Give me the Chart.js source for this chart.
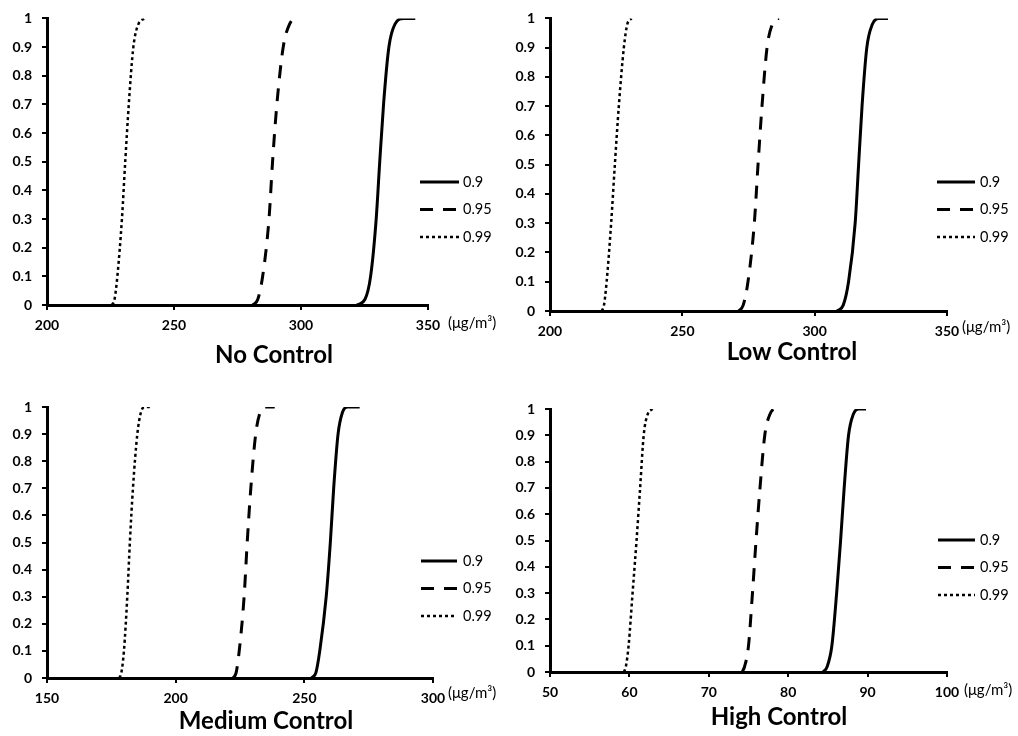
<!DOCTYPE html>
<html>
<head>
<meta charset="utf-8">
<script src="https://cdn.jsdelivr.net/npm/chart.js@4.4.0/dist/chart.umd.min.js"></script>
<style>
    body { margin: 0; background: #fff; width: 1018px; height: 736px; position: relative; overflow: hidden; }
    .panel { position: absolute; }
</style>
</head>
<body>
<div class="panel" style="left:0;top:0;width:509px;height:375px"><canvas id="noCtrl"></canvas></div>
<div class="panel" style="left:509px;top:0;width:509px;height:375px"><canvas id="lowCtrl"></canvas></div>
<div class="panel" style="left:0;top:375px;width:509px;height:361px"><canvas id="medCtrl"></canvas></div>
<div class="panel" style="left:509px;top:375px;width:509px;height:361px"><canvas id="highCtrl"></canvas></div>
<script>
// cumulative probability at the points (extra x values stay at 1)
var cumProb = [0, 0.02, 0.1, 0.3, 0.5, 0.7, 0.9, 0.98, 1];
var seriesNames = ['0.9', '0.95', '0.99'];
var yTicks = [0, 0.1, 0.2, 0.3, 0.4, 0.5, 0.6, 0.7, 0.8, 0.9, 1];

// No Control
var noCtrlTicks = [200, 250, 300, 350];
var noCtrl90 = [322.0, 325.2, 327.4, 329.6, 331.0, 332.5, 334.6, 337.0, 340.5, 345.0];
var noCtrl95 = [281.0, 283.0, 284.9, 287.4, 288.8, 290.5, 293.0, 295.5, 298.0, 298.9];
var noCtrl99 = [225.6, 226.6, 227.7, 229.5, 230.8, 232.2, 234.0, 236.0, 238.6];

// Low Control
var lowCtrlTicks = [200, 250, 300, 350];
var lowCtrl90 = [308.4, 310.8, 312.8, 315.3, 316.6, 317.9, 319.7, 321.8, 324.2, 327.7];
var lowCtrl95 = [271.3, 273.0, 274.8, 277.2, 278.6, 280.1, 282.0, 284.0, 286.0, 286.6];
var lowCtrl99 = [219.5, 220.4, 221.4, 223.1, 224.5, 226.0, 227.9, 229.2, 230.8];

// Medium Control
var medCtrlTicks = [150, 200, 250, 300];
var medCtrl90 = [252.8, 254.5, 256.0, 258.5, 260.1, 261.4, 263.1, 264.8, 266.8, 271.5];
var medCtrl95 = [222.3, 223.5, 224.7, 226.6, 227.8, 229.2, 231.1, 232.8, 234.5, 238.5];
var medCtrl99 = [178.1, 178.9, 179.9, 181.2, 182.2, 183.4, 185.1, 186.5, 188.0, 190.0];

// High Control
var highCtrlTicks = [50, 60, 70, 80, 90, 100];
var highCtrl90 = [84.4, 84.9, 85.5, 86.1, 86.6, 87.05, 87.6, 88.2, 88.9, 89.8];
var highCtrl95 = [74.2, 74.5, 75.0, 75.5, 75.95, 76.45, 77.05, 77.7, 78.4, 78.7];
var highCtrl99 = [59.3, 59.55, 59.9, 60.4, 60.9, 61.35, 61.8, 62.3, 62.9];

var lineStyles = [
    { borderDash: [], borderWidth: 3 },
    { borderDash: [13, 10], borderWidth: 3 },
    { borderDash: [3, 3], borderWidth: 2.5 }
];

// panel layout (canvas coords)
var panels = [
    { id: 'noCtrl', title: 'No Control', ticks: noCtrlTicks, series: [noCtrl90, noCtrl95, noCtrl99],
      area: [47, 12, 428, 305], legend: [420, 459, 463, 182], titlePos: [274, 355], unitPos: [448, 323] },
    { id: 'lowCtrl', title: 'Low Control', ticks: lowCtrlTicks, series: [lowCtrl90, lowCtrl95, lowCtrl99],
      area: [41, 13, 438, 311], legend: [428, 466, 471, 182], titlePos: [283, 352], unitPos: [453, 327] },
    { id: 'medCtrl', title: 'Medium Control', ticks: medCtrlTicks, series: [medCtrl90, medCtrl95, medCtrl99],
      area: [47, 32, 433, 303], legend: [421, 457, 463, 186], titlePos: [266, 346], unitPos: [448, 318] },
    { id: 'highCtrl', title: 'High Control', ticks: highCtrlTicks, series: [highCtrl90, highCtrl95, highCtrl99],
      area: [41, 34, 438, 297], legend: [429, 466, 471, 165], titlePos: [270, 342], unitPos: [455, 315] }
];

function toPoints(xs) {
    return xs.map(function (x, i) {
        return { x: x, y: i < cumProb.length ? cumProb[i] : 1 };
    });
}

// legend, caption and unit drawn by hand so they sit where the original has them
var panelDecor = {
    id: 'panelDecor',
    afterDraw: function (chart, args, opts) {
        var ctx = chart.ctx;
        ctx.save();
        ctx.fillStyle = '#000';
        ctx.strokeStyle = '#000';
        ctx.textBaseline = 'middle';
        // legend
        ctx.font = '14.5px Lato';
        chart.data.datasets.forEach(function (ds, i) {
            var y = opts.legend[3] + i * 27.5;
            ctx.lineWidth = ds.borderWidth;
            ctx.setLineDash(ds.borderDash);
            ctx.beginPath();
            ctx.moveTo(opts.legend[0], y);
            ctx.lineTo(opts.legend[1], y);
            ctx.stroke();
            ctx.setLineDash([]);
            ctx.textAlign = 'left';
            ctx.fillText(ds.label, opts.legend[2], y);
        });
        // unit
        ctx.font = '15px Lato';
        ctx.textAlign = 'left';
        ctx.fillText('(\u03bcg/m\u00b3)', opts.unitPos[0], opts.unitPos[1]);
        // caption
        ctx.font = 'bold 24px Lato';
        ctx.textAlign = 'center';
        ctx.fillText(opts.title, opts.titlePos[0], opts.titlePos[1]);
        ctx.restore();
    }
};

Chart.defaults.color = '#000';
Chart.defaults.font.family = 'Lato';

panels.forEach(function (p) {
    var canvas = document.getElementById(p.id);
    var W = canvas.parentNode.clientWidth;
    var H = canvas.parentNode.clientHeight;
    var datasets = p.series.map(function (xs, i) {
        return {
            label: seriesNames[i],
            data: toPoints(xs),
            borderColor: '#000',
            borderWidth: lineStyles[i].borderWidth,
            borderDash: lineStyles[i].borderDash,
            borderCapStyle: 'butt',
            pointRadius: 0,
            fill: false,
            cubicInterpolationMode: 'monotone'
        };
    });

    new Chart(canvas, {
        type: 'line',
        data: { datasets: datasets },
        plugins: [panelDecor],
        options: {
            responsive: true,
            maintainAspectRatio: false,
            animation: false,
            layout: {
                padding: { left: 0, top: p.area[1], right: W - p.area[2], bottom: 0 }
            },
            scales: {
                x: {
                    type: 'linear',
                    min: p.ticks[0],
                    max: p.ticks[p.ticks.length - 1],
                    afterBuildTicks: function (scale) {
                        scale.ticks = p.ticks.map(function (v) { return { value: v }; });
                    },
                    afterFit: function (scale) { scale.height = H - p.area[3]; },
                    border: { display: true, color: '#000', width: 3 },
                    grid: { display: true, drawOnChartArea: false, drawTicks: true, tickLength: 5, color: '#000', lineWidth: 2 },
                    ticks: { padding: 7, maxRotation: 0, font: { size: 14, weight: 'bold' } }
                },
                y: {
                    type: 'linear',
                    min: 0,
                    max: 1,
                    afterBuildTicks: function (scale) {
                        scale.ticks = yTicks.map(function (v) { return { value: v }; });
                    },
                    afterFit: function (scale) { scale.width = p.area[0]; },
                    border: { display: true, color: '#000', width: 3 },
                    grid: { display: true, drawOnChartArea: false, drawTicks: true, tickLength: 5, color: '#000', lineWidth: 2 },
                    ticks: {
                        padding: 10,
                        font: { size: 14, weight: 'bold' },
                        callback: function (v) { return String(Math.round(v * 10) / 10); }
                    }
                }
            },
            plugins: {
                legend: { display: false },
                tooltip: { enabled: false },
                panelDecor: { title: p.title, titlePos: p.titlePos, unitPos: p.unitPos, legend: p.legend }
            }
        }
    });
});
</script>
</body>
</html>
